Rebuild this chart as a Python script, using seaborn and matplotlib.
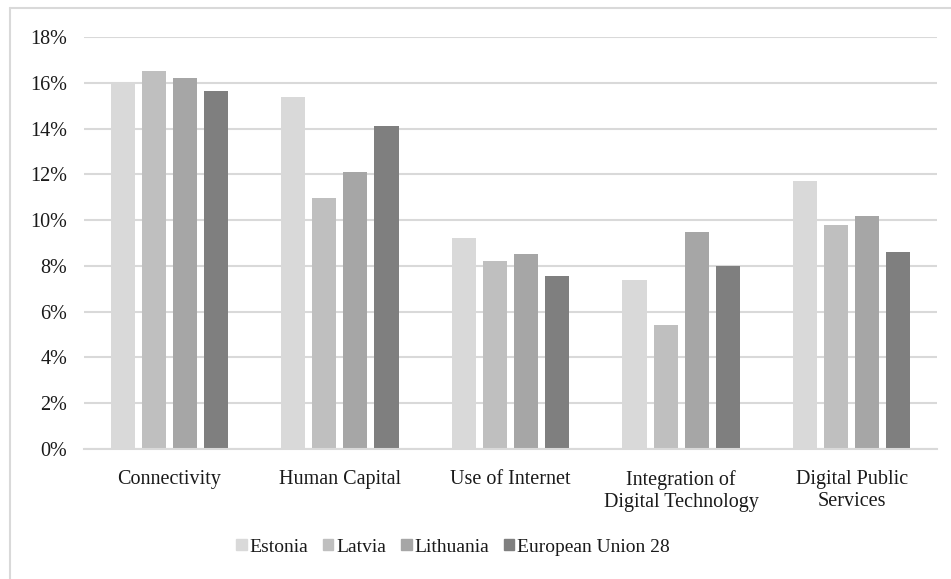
import matplotlib
matplotlib.use("Agg")
import matplotlib.pyplot as plt
from matplotlib.lines import Line2D
from matplotlib.ticker import FuncFormatter, MultipleLocator
import seaborn as sns
import pandas as pd

categories = ["Connectivity", "Human Capital", "Use of Internet",
              "Integration of\nDigital Technology", "Digital Public\nServices"]
countries = ["Estonia", "Latvia", "Lithuania", "European Union 28"]
estonia = [16.0, 15.4, 9.2, 7.4, 11.7]
latvia = [16.5, 10.95, 8.2, 5.4, 9.8]
lithuania = [16.2, 12.1, 8.5, 9.5, 10.2]
eu28 = [15.65, 14.1, 7.55, 8.0, 8.6]
colors = ["#d9d9d9", "#bfbfbf", "#a6a6a6", "#7f7f7f"]

rows = []
for country, vals in zip(countries, [estonia, latvia, lithuania, eu28]):
    for cat, v in zip(categories, vals):
        rows.append({"category": cat, "country": country, "share": v / 100})
df = pd.DataFrame(rows)

sns.set_theme(style="white")
plt.rcParams["font.family"] = ["Liberation Serif", "DejaVu Serif"]

fig = plt.figure(figsize=(9.51, 5.79), dpi=100)
ax = fig.add_axes([84 / 951, 1 - 449 / 579, (937 - 84) / 951, (449 - 37) / 579])

sns.barplot(data=df, x="category", y="share", hue="country", order=categories,
            hue_order=countries, palette=colors, width=0.727, gap=0.22,
            errorbar=None, ax=ax, legend=True, linewidth=0, saturation=1)

ax.set_ylim(0, 0.18)
ax.yaxis.set_major_locator(MultipleLocator(0.02))
ax.yaxis.set_major_formatter(FuncFormatter(lambda v, _: f"{v * 100:.0f}%"))
ax.grid(axis="y", color="#d9d9d9", linewidth=1.5)
ax.set_axisbelow(True)
for side in ["top", "right", "left"]:
    ax.spines[side].set_visible(False)
ax.spines["bottom"].set_color("#d9d9d9")
ax.spines["bottom"].set_linewidth(1.5)
ax.set_xlabel("")
ax.set_ylabel("")
ax.tick_params(axis="y", length=0, pad=12, labelsize=14.5, labelcolor="#1a1a1a")
ax.tick_params(axis="x", length=0, pad=15, labelsize=14.5, labelcolor="#1a1a1a")
for lab in ax.get_xticklabels():
    lab.set_linespacing(1.25)
ax.set_xlim(-0.5, 4.5)

ax.legend_.remove()
handles = [plt.Rectangle((0, 0), 1, 1, color=c) for c in colors]
fig.legend(handles, countries, loc="center", bbox_to_anchor=(453 / 951, 1 - 547 / 579),
           ncol=4, frameon=False, fontsize=14, handlelength=0.55, handleheight=0.55,
           handletextpad=0.15, columnspacing=0.75, labelcolor="#1a1a1a")

# chart-area frame
fig.add_artist(Line2D([10 / 951, 1.0], [1 - 8 / 579] * 2, transform=fig.transFigure,
                      color="#d9d9d9", linewidth=1.5))
fig.add_artist(Line2D([10 / 951] * 2, [0.0, 1 - 8 / 579], transform=fig.transFigure,
                      color="#d9d9d9", linewidth=1.5))

fig.savefig("out.png", dpi=100)
